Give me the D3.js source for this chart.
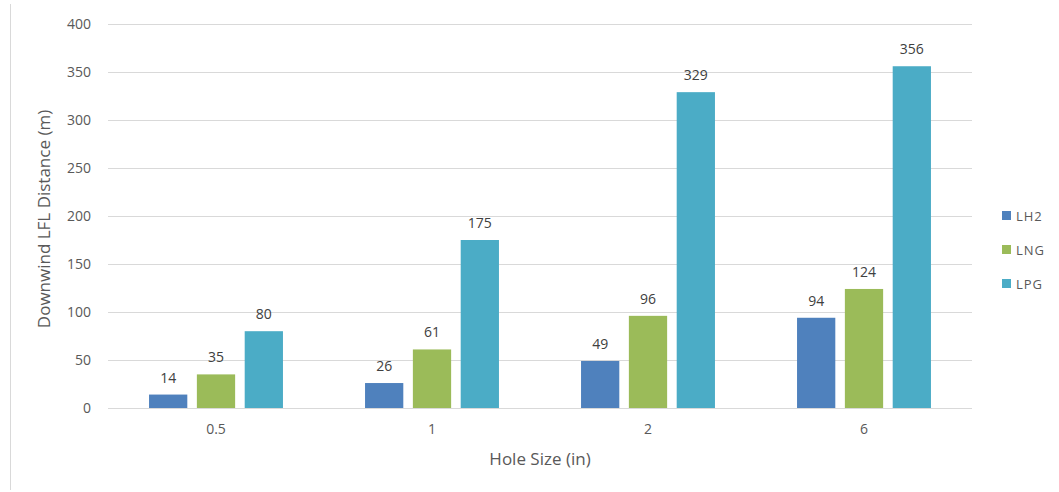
<!DOCTYPE html>
<html><head><meta charset="utf-8">
<script src="https://cdn.jsdelivr.net/npm/d3@7"></script>
<style>body{margin:0;background:#fff;}svg{display:block;font-family:"Open Sans",sans-serif;}</style>
</head><body><svg id="c" width="1059" height="492"></svg>
<script>
const categories = ["0.5", "1", "2", "6"];
const seriesNames = ["LH2", "LNG", "LPG"];
const LH2 = [14, 26, 49, 94];
const LNG = [35, 61, 96, 124];
const LPG = [80, 175, 329, 356];
const yTicks = [0, 50, 100, 150, 200, 250, 300, 350, 400];
const colors = ["#4f81bd", "#9bbb59", "#4bacc6"];
const seriesValues = [LH2, LNG, LPG];

const svg = d3.select("#c");
const m = {left:108, right:972, top:24, bottom:408};

svg.append("line").attr("x1",10.5).attr("x2",10.5).attr("y1",4).attr("y2",490).attr("stroke","#d9d9d9");

const x0 = d3.scaleBand().domain(categories).range([m.left, m.right]).paddingInner(0.38).paddingOuter(0.19);
const x1 = d3.scaleBand().domain(seriesNames).range([0, x0.bandwidth()]).paddingInner(0.2);
const y = d3.scaleLinear().domain([0, 400]).range([m.bottom, m.top]);

svg.append("g").selectAll("line").data(yTicks).join("line")
  .attr("x1", m.left).attr("x2", m.right)
  .attr("y1", d => Math.round(y(d))+0.5).attr("y2", d => Math.round(y(d))+0.5)
  .attr("stroke", "#d9d9d9").attr("stroke-width",1);

const yAxis = d3.axisLeft(y).tickValues(yTicks).tickSize(0).tickPadding(17);
const gy = svg.append("g").attr("transform", `translate(${m.left},0)`).call(yAxis);
gy.select(".domain").remove();
gy.selectAll("text").attr("fill","#595959").style("font-size","14px").style("font-family","'Open Sans',sans-serif");

const xAxis = d3.axisBottom(x0).tickSize(0).tickPadding(16);
const gx = svg.append("g").attr("transform", `translate(0,${m.bottom})`).call(xAxis);
gx.select(".domain").remove();
gx.selectAll("text").attr("fill","#595959").style("font-size","14px").style("font-family","'Open Sans',sans-serif");

const groups = svg.append("g").selectAll("g").data(categories).join("g")
  .attr("transform", d => `translate(${x0(d)},0)`);
groups.each(function(cat, ci) {
  const g = d3.select(this);
  seriesNames.forEach((s, si) => {
    const v = seriesValues[si][ci];
    g.append("rect").attr("x", x1(s)).attr("width", x1.bandwidth())
      .attr("y", y(v)).attr("height", y(0) - y(v)).attr("fill", colors[si]);
    g.append("text").attr("x", x1(s) + x1.bandwidth()/2).attr("y", y(v) - 12)
      .attr("text-anchor","middle").attr("fill","#404040").style("font-size","14px").text(v);
  });
});

svg.append("text").attr("transform","translate(50,219) rotate(-90)").attr("text-anchor","middle")
  .attr("fill","#595959").style("font-size","17px").text("Downwind LFL Distance (m)");
svg.append("text").attr("x",540).attr("y",465).attr("text-anchor","middle")
  .attr("fill","#595959").style("font-size","17px").text("Hole Size (in)");

const lg = svg.append("g").selectAll("g").data(seriesNames).join("g")
  .attr("transform", (d,i) => `translate(1002,${211 + i*34})`);
lg.append("rect").attr("width",9).attr("height",9).attr("fill",(d,i)=>colors[i]);
lg.append("text").attr("x",14).attr("y",9.5).attr("fill","#595959").style("font-size","13px").style("letter-spacing","1px").text(d=>d);
</script></body></html>
